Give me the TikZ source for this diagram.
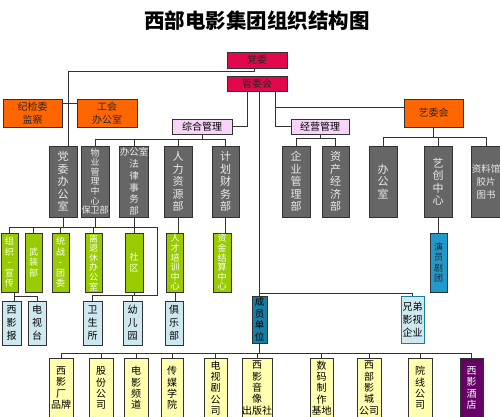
\documentclass[tikz,border=0pt]{standalone}
\usepackage{fontspec}
\newfontfamily\cjk{Noto Sans CJK SC}
\newcommand\fsz[2]{\fontsize{#1}{#2}\selectfont}
\definecolor{crim}{RGB}{226,8,76}
\definecolor{orng}{RGB}{255,102,0}
\definecolor{pnk}{RGB}{248,212,248}
\definecolor{gry}{RGB}{102,102,102}
\definecolor{grn}{RGB}{153,204,0}
\definecolor{lblu}{RGB}{206,232,240}
\definecolor{tealA}{RGB}{34,153,204}
\definecolor{tealB}{RGB}{24,125,165}
\definecolor{ylw}{RGB}{255,255,175}
\definecolor{purp}{RGB}{102,0,102}
\definecolor{lnc}{RGB}{50,50,50}
\tikzset{
  box/.style={draw=lnc, line width=0.7pt, inner sep=0pt, align=center},
  wh/.style 2 args={minimum width=#1pt, minimum height=#2pt},
  redbox/.style={box, fill=crim, text=black!85, font=\cjk\fsz{10}{12}},
  orbox/.style={box, fill=orng, text=black!85, font=\cjk\fsz{10}{13}},
  pkbox/.style={box, fill=pnk, text=black, font=\cjk\fsz{10}{12}},
  grbox/.style={box, fill=gry, text=white!92!black, font=\cjk\fsz{11}{12.5}, wh={28}{71}},
  gnbox/.style={box, fill=grn, text=white, font=\cjk\fsz{9}{10.5}, wh={17}{59}},
  lbbox/.style={box, fill=lblu, text=black, font=\cjk\fsz{10}{13}, wh={19}{44}},
  ylbox/.style={box, fill=ylw, text=black, font=\cjk\fsz{10}{11.3}, wh={24}{60}},
  conn/.style={draw=lnc, line width=0.7pt},
}
\begin{document}
\begin{tikzpicture}[x=1pt,y=-1pt]
\useasboundingbox (0,0) rectangle (500,417);
\clip (0,0) rectangle (500,417);
\fill[white] (0,0) rectangle (500,417);

\node[font=\cjk\bfseries\fsz{20.5}{24}] (title) at (257,21) {西部电影集团组织结构图};

% top
\node[redbox, wh={60}{16}] (dangwei) at (257,60) {党委};
\node[redbox, wh={60}{15}] (guanwei) at (257,83.5) {管委会};
\node[orbox, wh={59}{28}] (jijian) at (32.5,113) {纪检委\\监察};
\node[orbox, wh={60}{28}] (gonghui) at (107,113) {工会\\办公室};
\node[orbox, wh={59}{28}] (yiwei) at (433.5,113) {艺委会};
\node[pkbox, wh={60}{15}] (zonghe) at (202,126.5) {综合管理};
\node[pkbox, wh={58}{15}] (jingying) at (320,126.5) {经营管理};

% gray row
\node[grbox] (dwbgs) at (63,181.5) {党\\委\\办\\公\\室};
\node[grbox, font=\cjk\fsz{9}{9.6}] (wuye) at (95,181.5) {物\\业\\管\\理\\中\\心\\保卫部};
\node[grbox, font=\cjk\fsz{9.5}{11.8}] (bgsfl) at (134,181.5) {办公室\\法\\律\\事\\务\\部};
\node[grbox] (renli) at (178,181.5) {人\\力\\资\\源\\部};
\node[grbox, wh={27}{71}] (jihua) at (225.5,181.5) {计\\划\\财\\务\\部};
\node[grbox] (qiye) at (296,181.5) {企\\业\\管\\理\\部};
\node[grbox, wh={27}{71}] (zichan) at (335.5,181.5) {资\\产\\经\\济\\部};
\node[grbox] (yibgs) at (383,181.5) {办\\公\\室};
\node[grbox] (yichuang) at (438,181.5) {艺\\创\\中\\心};
\node[grbox, font=\cjk\fsz{9.5}{13}] (ziliao) at (486,181.5) {资料馆\\胶片\\图书};

% green row
\node[gnbox] (zuzhi) at (9.5,262.5) {组\\织\\-\\宣\\传};
\node[gnbox] (wuzhuang) at (33.5,262.5) {武\\装\\部};
\node[gnbox] (tongzhan) at (60.5,262.5) {统\\战\\-\\团\\委};
\node[gnbox, font=\cjk\fsz{9}{9.6}] (lituixiu) at (93.5,262.5) {离\\退\\休\\办\\公\\室};
\node[gnbox, wh={18}{59}] (shequ) at (134,262.5) {社\\区};
\node[gnbox, font=\cjk\fsz{9}{9.6}] (rencai) at (175,262.5) {人\\才\\培\\训\\中\\心};
\node[gnbox, wh={18}{59}, font=\cjk\fsz{9}{9.6}] (zijin) at (222,262.5) {资\\金\\结\\算\\中\\心};
\node[gnbox, fill=tealA, text=black!85] (yanyuan) at (438.5,262.5) {演\\员\\剧\\团};

% light blue row
\node[lbbox] (xiyingbao) at (11.5,323) {西\\影\\报};
\node[lbbox, wh={18}{44}] (dianshitai) at (37,323) {电\\视\\台};
\node[lbbox] (weisheng) at (92.5,323) {卫\\生\\所};
\node[lbbox] (youer) at (132.5,323) {幼\\儿\\园};
\node[lbbox, wh={18}{44}] (julebu) at (174,323) {俱\\乐\\部};
\node[lbbox, wh={15}{47}, fill=tealB, font=\cjk\fsz{9.5}{11.5}] (chengyuan) at (259.5,319.5) {成\\员\\单\\位};
\node[lbbox, wh={23}{47}, draw=tealB, font=\cjk\fsz{10}{13}] (xiongdi) at (412.5,319.5) {兄弟\\影视\\企业};

% bottom row (boxes run past the lower edge)
\node[ylbox] (xiying) at (61,388) {西\\影\\厂\\品牌};
\node[ylbox] (gufen) at (101,388) {股\\份\\公\\司};
\node[ylbox] (pindao) at (136,388) {电\\影\\频\\道};
\node[ylbox, wh={22}{60}] (chuanmei) at (172,388) {传\\媒\\学\\院};
\node[ylbox, wh={23}{60}] (dianshiju) at (215.5,388) {电\\视\\剧\\公\\司};
\node[ylbox, wh={28}{60}] (yinxiang) at (257,388) {西\\影\\音\\像\\出版社};
\node[ylbox, wh={23}{60}] (shuma) at (321.5,388) {数\\码\\制\\作\\基地};
\node[ylbox] (yingcheng) at (369,388) {西\\部\\影\\城\\公司};
\node[ylbox] (yuanxian) at (420,388) {院\\线\\公\\司};
\node[ylbox, wh={23}{60}, fill=purp, text=white] (jiudian) at (471.5,388) {西\\影\\酒\\店};

% ---------- connectors ----------
\coordinate (dj) at (254,71);
\draw[conn] (dangwei.south -| dj) -- (dj) -| ([xshift=5pt]dwbgs.north);
\draw[conn] (jijian.east |- 0,103) -- (gonghui.west |- 0,103);

\draw[conn] ([xshift=-10pt]guanwei.south) |- (zonghe.east);
\draw[conn] (chengyuan.north |- guanwei.south) -- (chengyuan.north);
\draw[conn] ([xshift=18pt]guanwei.south) |- (jingying.west);
\coordinate (gy) at (275,107);
\draw[conn] (gy) -- (gy -| yiwei.west);

% zonghe bus
\coordinate (zb) at (0,139);
\draw[conn] (wuye.north |- zb) -- (jihua.north |- zb);
\draw[conn] (zonghe.south) -- (zonghe.south |- zb);
\foreach \n in {wuye,bgsfl,renli,jihua} \draw[conn] (\n.north |- zb) -- (\n.north);

% jingying bus
\coordinate (jb) at (0,138);
\draw[conn] (qiye.north |- jb) -- (zichan.north |- jb);
\draw[conn] (jingying.south) -- (jingying.south |- jb);
\foreach \n in {qiye,zichan} \draw[conn] (\n.north |- jb) -- (\n.north);

% yiwei bus
\coordinate (yb) at (0,137);
\draw[conn] (yibgs.north |- yb) -- (ziliao.north |- yb);
\draw[conn] (yiwei.south) -- (yiwei.south |- yb);
\foreach \n in {yibgs,yichuang,ziliao} \draw[conn] (\n.north |- yb) -- (\n.north);
\draw[conn] (yichuang.south) -- (yichuang.south |- yanyuan.north);

% green bus
\coordinate (gb) at (0,227);
\coordinate (gr) at (157,227);
\draw[conn] (zuzhi.north |- gb) -- (gr);
\draw[conn] (dwbgs.south) -- (dwbgs.south |- gb);
\draw[conn] (wuye.south) -- (wuye.south |- gb);
\foreach \n in {zuzhi,wuzhuang,tongzhan,lituixiu} \draw[conn] (\n.north |- gb) -- (\n.north);
\draw[conn] (bgsfl.south) -- (bgsfl.south |- shequ.north);
\draw[conn] (renli.south) -- (renli.south |- rencai.north);
\draw[conn] (jihua.south) -- (jihua.south |- zijin.north);

% lower bus
\coordinate (lb) at (157,295);
\draw[conn] (gr) -- (lb) -| (weisheng.north);
\draw[conn] (youer.north |- lb) -- (youer.north);
\draw[conn] (shequ.south) -- (shequ.south |- lb);
\draw[conn] (rencai.south) -- (rencai.south |- julebu.north);
\coordinate (zz) at (14.5,296);
\draw[conn] (zuzhi.south -| zz) -- (zz |- xiyingbao.north);
\draw[conn] (zz) -| (dianshitai.north);

% chengyuan
\coordinate (cb) at (0,293);
\draw[conn] (chengyuan.north |- cb) -| (xiongdi.north);

% bottom bus
\coordinate (bb) at (0,353);
\draw[conn] (xiying.north |- bb) -- (jiudian.north |- bb);
\draw[conn] (chengyuan.south) -- (chengyuan.south |- bb);
\foreach \n in {xiying,gufen,pindao,chuanmei,dianshiju,yinxiang,shuma,yingcheng,yuanxian,jiudian}
  \draw[conn] (\n.north |- bb) -- (\n.north);
\end{tikzpicture}
\end{document}
